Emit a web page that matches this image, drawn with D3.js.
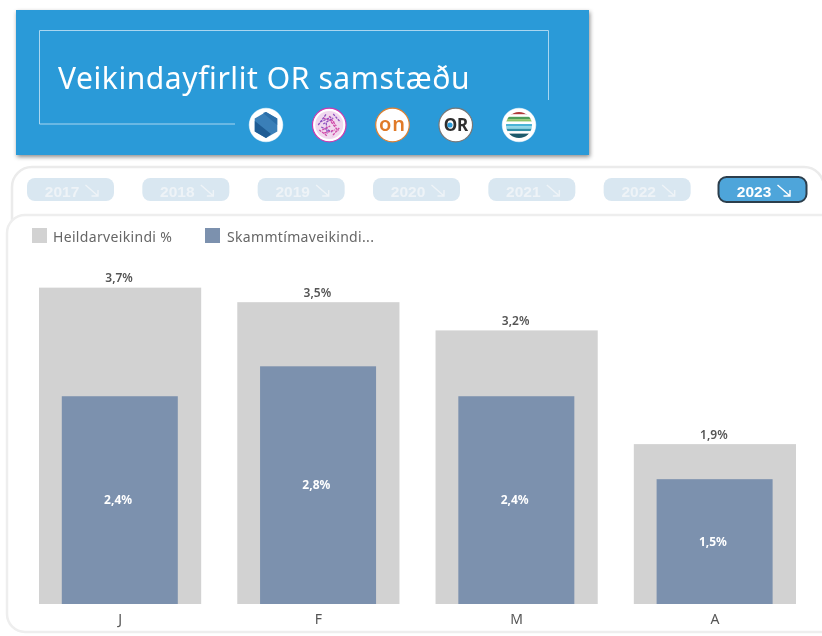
<!DOCTYPE html>
<html lang="is">
<head>
<meta charset="utf-8">
<script src="https://cdn.jsdelivr.net/npm/d3@7"></script>
<style>
html,body{margin:0;padding:0;background:#fff;overflow:hidden}
svg{display:block;filter:blur(0.55px)}
text{font-family:"Noto Sans",sans-serif}
</style>
</head>
<body>
<div id="chart"></div>
<script>
const months = ["J", "F", "M", "A"];
const totalAbsence = [3.7, 3.53, 3.2, 1.87];
const shortAbsence = [2.43, 2.78, 2.43, 1.46];
const years = ["2017", "2018", "2019", "2020", "2021", "2022", "2023"];
const activeYear = "2023";
const legendLabels = ["Heildarveikindi %", "Skammtímaveikindi..."];
const titleText = "Veikindayfirlit OR samstæðu";

const W = 822, H = 636;
const svg = d3.select("#chart").append("svg").attr("width", W).attr("height", H);
const defs = svg.append("defs");
const sh = defs.append("filter").attr("id", "shadow").attr("x", "-5%").attr("y", "-10%").attr("width", "110%").attr("height", "125%");
sh.append("feDropShadow").attr("dx", 1).attr("dy", 2).attr("stdDeviation", 2).attr("flood-color", "#000").attr("flood-opacity", 0.45);

/* header */
svg.append("rect").attr("x", 16).attr("y", 10).attr("width", 573).attr("height", 145).attr("fill", "#2a9ad8").attr("filter", "url(#shadow)");
svg.append("path").attr("d", "M235,124H39.5V30.5H548.5V100").attr("fill", "none").attr("stroke", "#a9d6f0").attr("stroke-width", 1);
svg.append("text").attr("x", 58).attr("y", 89).attr("fill", "#fff").attr("font-size", 30).attr("letter-spacing", 0.58).text(titleText);

/* logos */
const logoX = d3.scalePoint().domain(d3.range(5)).range([266, 519]);
const logoY = 125;
const logos = svg.append("g");
const ring = ["#ffffff", "#c93ab0", "#e08030", "#777777", "#ffffff"];
d3.range(5).forEach(i => {
  const g = logos.append("g").attr("transform", `translate(${logoX(i)},${logoY})`);
  g.append("circle").attr("r", 16.8).attr("fill", "#fff").attr("stroke", ring[i]).attr("stroke-width", i === 0 || i === 4 ? 0.5 : 1.2);
  if (i === 0) {
    g.append("path").attr("d", d3.range(6).map(k => {
      const a = Math.PI / 3 * k;
      return (k ? "L" : "M") + (13 * Math.sin(a)).toFixed(1) + "," + (-13 * Math.cos(a)).toFixed(1);
    }).join("") + "Z").attr("fill", "#3a7fb8");
    g.append("path").attr("d", "M-11.2,-4L5,9L0,13L-11.2,6.5Z").attr("fill", "#1f5c94");
    g.append("path").attr("d", "M-3,-12L11.2,0V-6.5L0,-13Z").attr("fill", "#2b6ea8");
  } else if (i === 1) {
    g.append("circle").attr("r", 14).attr("fill", "#f1d8ee");
    [[-6,-7,5,-3],[-8,2,3,7],[0,-9,7,1],[-3,-2,-2,9],[2,-3,9,6],[-9,-3,2,-8],[-5,8,6,5],
     [-11,0,-3,-11],[-10,5,-2,11],[4,-11,11,-3],[10,3,3,11],[-6,-1,4,-7],[-7,5,1,1]].forEach((s, k) => {
      g.append("line").attr("x1", s[0]).attr("y1", s[1]).attr("x2", s[2]).attr("y2", s[3])
        .attr("stroke", k % 2 ? "#8e52c0" : "#d04aa8").attr("stroke-width", 1.3).attr("stroke-dasharray", "2.5 1");
    });
  } else if (i === 2) {
    g.append("text").attr("text-anchor", "middle").attr("y", 5.5).attr("font-size", 20).attr("font-weight", 600)
      .attr("letter-spacing", 1).attr("fill", "#e07a28").text("on");
  } else if (i === 3) {
    g.append("text").attr("text-anchor", "middle").attr("y", 6).attr("font-size", 17).attr("font-weight", 700)
      .attr("fill", "#2f2f2f").attr("letter-spacing", -0.4).text("OR");
    g.append("circle").attr("cx", -5.8).attr("cy", 0).attr("r", 2.6).attr("fill", "#2a9ad8");
  } else {
    const cp = defs.append("clipPath").attr("id", "stripes");
    cp.append("circle").attr("r", 13);
    const sg = g.append("g").attr("clip-path", "url(#stripes)");
    ["#b03a3a", "#fff", "#4f9e5a", "#8fc46a", "#fff", "#49b4d6", "#8fd6e6", "#2f8fa8", "#fff", "#1d5a6b", "#1d5a6b"].forEach((c, k) => {
      sg.append("rect").attr("x", -14).attr("width", 28).attr("y", -13 + k * 2.4).attr("height", 2.5).attr("fill", c);
    });
  }
});

/* panels */
svg.append("rect").attr("x", 12).attr("y", 167).attr("width", 812).attr("height", 100).attr("rx", 20)
  .attr("fill", "#fff").attr("stroke", "#ebebeb").attr("stroke-width", 2.5);
svg.append("rect").attr("x", 7).attr("y", 215).attr("width", 860).attr("height", 417).attr("rx", 18)
  .attr("fill", "#fff").attr("stroke", "#eeeeee").attr("stroke-width", 2.5);

/* year buttons */
const btnX = d3.scalePoint().domain(years).range([70.5, 762.5]);
const btn = svg.append("g").selectAll("g").data(years).join("g")
  .attr("transform", d => `translate(${btnX(d)},189.5)`);
btn.append("rect").attr("x", d => d === activeYear ? -44 : -43.5).attr("y", d => d === activeYear ? -12.5 : -11.5)
  .attr("width", d => d === activeYear ? 88 : 87).attr("height", d => d === activeYear ? 25 : 23)
  .attr("rx", 8)
  .attr("fill", d => d === activeYear ? "#4ea5da" : "#d9e7f1")
  .attr("stroke", d => d === activeYear ? "#2c3e4c" : "none")
  .attr("stroke-width", 2);
btn.append("text").attr("x", -8.5).attr("y", 7).attr("text-anchor", "middle")
  .style("font-family", '"Liberation Sans",sans-serif').attr("font-size", 15.5).attr("font-weight", 700)
  .attr("fill", d => d === activeYear ? "#fff" : "#eef3f7").text(d => d);
btn.append("path").attr("d", "M15,-4.5L27,6M21,6.5H27.5V0.5").attr("fill", "none")
  .attr("stroke", d => d === activeYear ? "#fff" : "#eef3f7").attr("stroke-width", 1.4);

/* legend */
const legendX = [32, 205], legendColors = ["#d2d2d2", "#7c91ae"];
const leg = svg.append("g").selectAll("g").data(legendLabels).join("g")
  .attr("transform", (d, i) => `translate(${legendX[i]},228)`);
leg.append("rect").attr("width", 15).attr("height", 15).attr("fill", (d, i) => legendColors[i]);
leg.append("text").attr("x", (d, i) => i ? 22 : 21).attr("y", 14).attr("font-size", 14).attr("letter-spacing", 0.33).attr("fill", "#666").text(d => d);

/* bars */
const x = d3.scaleBand().domain(months).range([39, 796]).paddingInner(0.182).paddingOuter(0);
const y = d3.scaleLinear().domain([0, 4]).range([604, 262]);
const fmt = v => d3.format(".1f")(v).replace(".", ",") + "%";
const innerW = 116;

svg.append("g").selectAll("rect").data(months).join("rect")
  .attr("x", d => x(d)).attr("width", x.bandwidth())
  .attr("y", (d, i) => y(totalAbsence[i])).attr("height", (d, i) => y(0) - y(totalAbsence[i]))
  .attr("fill", "#d2d2d2");
svg.append("g").selectAll("rect").data(months).join("rect")
  .attr("x", d => x(d) + (x.bandwidth() - innerW) / 2 - 0.3).attr("width", innerW)
  .attr("y", (d, i) => y(shortAbsence[i])).attr("height", (d, i) => y(0) - y(shortAbsence[i]))
  .attr("fill", "#7c91ae");

svg.append("g").selectAll("text").data(months).join("text")
  .attr("x", d => x(d) + x.bandwidth() / 2 - 1).attr("y", (d, i) => y(totalAbsence[i]) - 5.5)
  .attr("text-anchor", "middle").attr("font-size", 12).attr("font-weight", 600).attr("fill", "#555")
  .text((d, i) => fmt(totalAbsence[i]));
svg.append("g").selectAll("text").data(months).join("text")
  .attr("x", d => x(d) + x.bandwidth() / 2 - 2).attr("y", (d, i) => (y(shortAbsence[i]) + y(0)) / 2 + 4)
  .attr("text-anchor", "middle").attr("font-size", 12).attr("font-weight", 700).attr("fill", "#fff")
  .text((d, i) => fmt(shortAbsence[i]));

/* x axis */
const axis = svg.append("g").attr("transform", "translate(0,604)")
  .call(d3.axisBottom(x).tickSize(0).tickPadding(10));
axis.select(".domain").remove();
axis.selectAll("text").attr("font-size", 14).attr("fill", "#555").style("font-family", '"Noto Sans",sans-serif');
</script>
</body>
</html>
